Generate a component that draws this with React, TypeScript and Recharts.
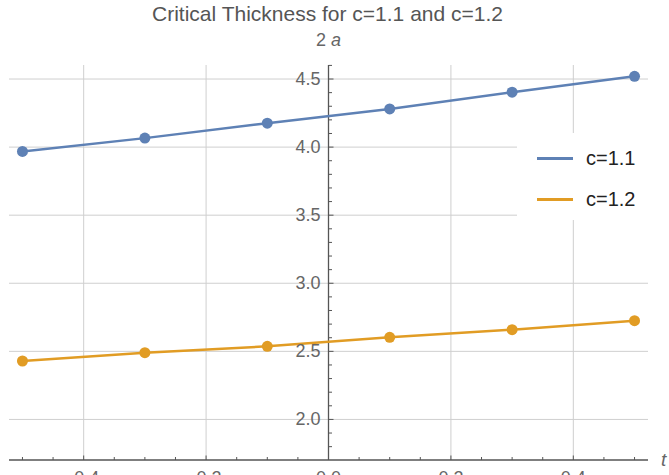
import {
  CartesianGrid,
  Legend,
  Line,
  LineChart,
  ReferenceLine,
  XAxis,
  YAxis,
} from "recharts";

const tValues = [-0.5, -0.3, -0.1, 0.1, 0.3, 0.5];
const c11 = [3.968, 4.066, 4.176, 4.28, 4.403, 4.52];
const c12 = [2.429, 2.49, 2.537, 2.603, 2.659, 2.725];

const xMajor = [-0.4, -0.2, 0, 0.2, 0.4];
const xMinor = [
  -0.5, -0.45, -0.35, -0.3, -0.25, -0.15, -0.1, -0.05, 0.05, 0.1, 0.15, 0.25,
  0.3, 0.35, 0.45, 0.5,
];
const xLabels = ["-0.4", "-0.2", "0.0", "0.2", "0.4"];

const yMajor = [2.0, 2.5, 3.0, 3.5, 4.0, 4.5];
const yMinor = [
  1.8, 1.9, 2.1, 2.2, 2.3, 2.4, 2.6, 2.7, 2.8, 2.9, 3.1, 3.2, 3.3, 3.4, 3.6,
  3.7, 3.8, 3.9, 4.1, 4.2, 4.3, 4.4, 4.6,
];
const yLabels = ["2.0", "2.5", "3.0", "3.5", "4.0", "4.5"];

const BLUE = "#5E81B5";
const ORANGE = "#E19C24";
const AXIS = "#555";
const GRID = "#cfcfcf";
const FONT = "'Liberation Sans', Arial, sans-serif";

const W = 669;
const H = 475;
const M = { top: 65, right: 21, left: 9, bottom: 0 };
const X_DOMAIN: [number, number] = [-0.522, 0.522];
const Y_DOMAIN: [number, number] = [1.702, 4.603];

// pixel x of the t=0 axis, so the y axis can sit in the middle like Mathematica
const AXIS_X =
  M.left +
  ((0 - X_DOMAIN[0]) / (X_DOMAIN[1] - X_DOMAIN[0])) * (W - M.left - M.right);

const data = tValues.map((t, i) => ({ t, c11: c11[i], c12: c12[i] }));

function XTick(props: any) {
  const { x, y, payload } = props;
  const idx = xMajor.findIndex((v) => Math.abs(v - payload.value) < 1e-9);
  const major = idx >= 0;
  return (
    <g>
      <line x1={x} x2={x} y1={y} y2={y - (major ? 4.5 : 3)} stroke={AXIS} strokeWidth={1} />
      {major && (
        <text x={x} y={y + 24} textAnchor="middle" fontSize={18} fill="#666" fontFamily={FONT}>
          {xLabels[idx]}
        </text>
      )}
    </g>
  );
}

function YTick(props: any) {
  const { y, payload } = props;
  const idx = yMajor.findIndex((v) => Math.abs(v - payload.value) < 1e-9);
  const major = idx >= 0;
  return (
    <g>
      <line x1={AXIS_X} x2={AXIS_X + (major ? 5 : 3.5)} y1={y} y2={y} stroke={AXIS} strokeWidth={1} />
      {major && (
        <text x={AXIS_X - 8} y={y + 6} textAnchor="end" fontSize={18} fill="#666" fontFamily={FONT}>
          {yLabels[idx]}
        </text>
      )}
    </g>
  );
}

function LegendBox(props: any) {
  const items = props.payload || [];
  return (
    <div style={{ background: "#fff", width: 152, height: 87, position: "relative" }}>
      {items.map((item: any, i: number) => (
        <div
          key={item.value}
          style={{
            position: "absolute",
            left: 20,
            top: 14 + i * 41,
            display: "flex",
            alignItems: "center",
            fontFamily: FONT,
            fontSize: 20,
            color: "#222",
          }}
        >
          <span style={{ display: "inline-block", width: 36, height: 2.5, background: item.color }} />
          <span style={{ marginLeft: 13 }}>{item.value}</span>
        </div>
      ))}
    </div>
  );
}

export default function App() {
  return (
    <div style={{ position: "absolute", left: 0, top: 0, width: W, height: H, background: "#fff" }}>
      <div
        style={{
          position: "absolute",
          left: 0,
          top: 2,
          width: 655,
          textAlign: "center",
          fontFamily: FONT,
          fontSize: 21,
          color: "#555",
          zIndex: 2,
        }}
      >
        Critical Thickness for c=1.1 and c=1.2
      </div>
      <LineChart width={W} height={H} data={data} margin={M}>
        <CartesianGrid
          stroke={GRID}
          strokeWidth={1}
          horizontalValues={yMajor}
          verticalValues={xMajor}
        />
        <XAxis
          dataKey="t"
          type="number"
          domain={X_DOMAIN}
          ticks={[...xMajor, ...xMinor]}
          interval={0}
          height={15}
          tickSize={0}
          tickMargin={0}
          tickLine={false}
          axisLine={{ stroke: AXIS, strokeWidth: 1.3 }}
          tick={<XTick />}
          allowDataOverflow
          label={{
            content: (p: any) => (
              <text
                x={p.viewBox.x + p.viewBox.width + 13}
                y={p.viewBox.y + 6}
                fontSize={19}
                fontStyle="italic"
                fill="#666"
                fontFamily={FONT}
              >
                t
              </text>
            ),
          }}
        />
        <YAxis
          type="number"
          domain={Y_DOMAIN}
          ticks={[...yMajor, ...yMinor]}
          interval={0}
          mirror
          width={60}
          tickSize={0}
          tickLine={false}
          axisLine={false}
          tick={<YTick />}
          allowDataOverflow
          label={{
            content: () => (
              <text
                x={AXIS_X}
                y={M.top - 19}
                textAnchor="middle"
                fontSize={18}
                fill="#666"
                fontFamily={FONT}
              >
                2 <tspan fontStyle="italic">a</tspan>
              </text>
            ),
          }}
        />
        <ReferenceLine x={0} stroke={AXIS} strokeWidth={1.3} ifOverflow="extendDomain" />
        <Legend
          content={<LegendBox />}
          layout="horizontal"
          align="center"
          verticalAlign="middle"
          wrapperStyle={{ position: "absolute", left: 517, top: 133, width: 152, height: 87 }}
        />
        <Line
          type="linear"
          dataKey="c11"
          name="c=1.1"
          stroke={BLUE}
          strokeWidth={2.5}
          dot={{ r: 5.5, fill: BLUE, stroke: "none" }}
          isAnimationActive={false}
        />
        <Line
          type="linear"
          dataKey="c12"
          name="c=1.2"
          stroke={ORANGE}
          strokeWidth={2.5}
          dot={{ r: 5.5, fill: ORANGE, stroke: "none" }}
          isAnimationActive={false}
        />
      </LineChart>
    </div>
  );
}
